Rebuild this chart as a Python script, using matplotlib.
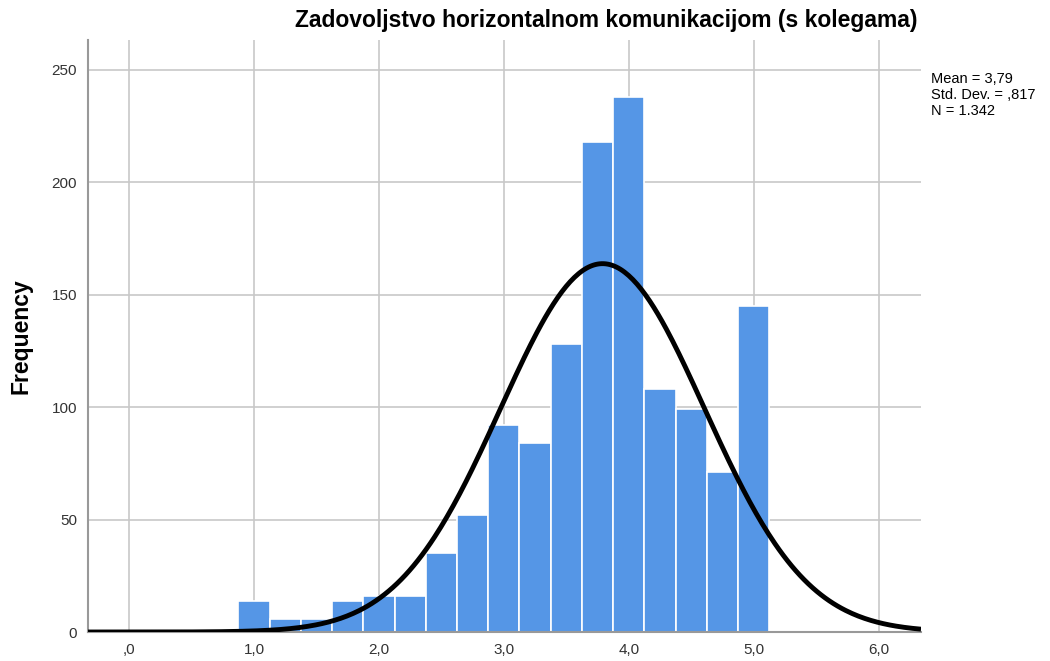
import matplotlib.pyplot as plt
import numpy as np

plt.rcParams['font.family'] = ['Liberation Sans', 'DejaVu Sans']

# histogram data (bin edges start at 0.875, width 0.25)
bin_start = 0.875
bin_width = 0.25
counts = [14, 6, 6, 14, 16, 16, 35, 52, 92, 84, 128, 218, 238, 108, 99, 71, 145]
mean = 3.79
std = 0.817
n = 1342

xticks = [0, 1, 2, 3, 4, 5, 6]
xtick_labels = [',0', '1,0', '2,0', '3,0', '4,0', '5,0', '6,0']
yticks = [0, 50, 100, 150, 200, 250]

edges = bin_start + bin_width * np.arange(len(counts) + 1)

fig = plt.figure(figsize=(10.5, 6.61), dpi=100)
ax = fig.add_axes([88 / 1050, 29 / 661, (921 - 88) / 1050, (632 - 40) / 661])

ax.set_axisbelow(True)
ax.grid(True, color='#c8c8c8', linewidth=1.2)
ax.bar(edges[:-1], counts, width=bin_width, align='edge',
       color='#5596e6', edgecolor='white', linewidth=1.2, zorder=2)

# normal curve
xs = np.linspace(-0.33, 6.34, 400)
ys = n * bin_width * np.exp(-0.5 * ((xs - mean) / std) ** 2) / (std * np.sqrt(2 * np.pi))
ax.plot(xs, ys, color='black', linewidth=3.5, zorder=3, solid_capstyle='butt')

ax.set_xlim(-0.33, 6.34)
ax.set_ylim(0, 263.3)
ax.set_xticks(xticks)
ax.set_xticklabels(xtick_labels)
ax.set_yticks(yticks)
ax.tick_params(axis='both', length=0, labelsize=11, colors='#333333', pad=8)

for s in ['top', 'right']:
    ax.spines[s].set_visible(False)
for s in ['left', 'bottom']:
    ax.spines[s].set_color('#999999')
    ax.spines[s].set_linewidth(1.5)

ax.set_ylabel('Frequency', fontsize=16.5, fontweight='bold')
ax.yaxis.set_label_coords(-(88 - 33) / 833, 0.5)
ax.set_title('Zadovoljstvo horizontalnom komunikacijom (s kolegama)',
             fontsize=16.5, fontweight='bold', x=0.622, pad=9)

fig.text(931 / 1050, 1 - 95 / 661,
         'Mean = 3,79\nStd. Dev. = ,817\nN = 1.342',
         fontsize=10.5, va='center', ha='left', linespacing=1.15)

fig.savefig('out.png', dpi=100)
